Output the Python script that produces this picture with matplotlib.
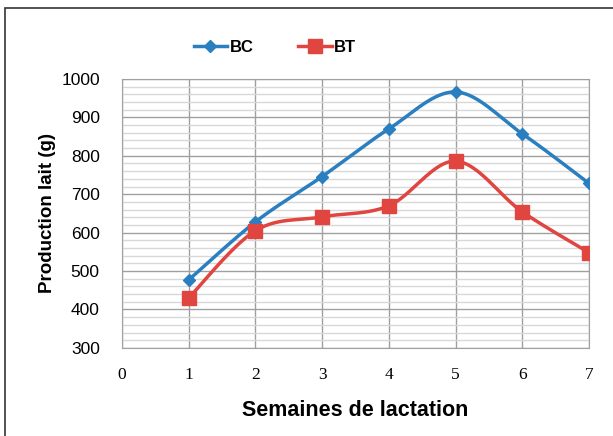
import matplotlib
matplotlib.use('Agg')
import matplotlib.pyplot as plt
import numpy as np
from matplotlib.patches import Rectangle
from matplotlib.ticker import MultipleLocator

semaines = [1, 2, 3, 4, 5, 6, 7]
bc = [477, 628, 746, 870, 966, 857, 728]
bt = [430, 605, 641, 670, 786, 654, 548]
x_ticks = [0, 1, 2, 3, 4, 5, 6, 7]
y_ticks = [300, 400, 500, 600, 700, 800, 900, 1000]

blue = '#2a7fc1'
red = '#e04540'


def lisser(x, y, n=30):
    # courbe lissée type Excel (Catmull-Rom)
    x = np.asarray(x, float)
    y = np.asarray(y, float)
    px = np.concatenate([[x[0]], x, [x[-1]]])
    py = np.concatenate([[y[0]], y, [y[-1]]])
    xs, ys = [], []
    t = np.linspace(0, 1, n)
    for i in range(1, len(px) - 2):
        p0, p1, p2, p3 = px[i-1], px[i], px[i+1], px[i+2]
        q0, q1, q2, q3 = py[i-1], py[i], py[i+1], py[i+2]
        c1x, c1y = p1 + (p2 - p0) / 6, q1 + (q2 - q0) / 6
        c2x, c2y = p2 - (p3 - p1) / 6, q2 - (q3 - q1) / 6
        bx = (1-t)**3*p1 + 3*(1-t)**2*t*c1x + 3*(1-t)*t**2*c2x + t**3*p2
        by = (1-t)**3*q1 + 3*(1-t)**2*t*c1y + 3*(1-t)*t**2*c2y + t**3*q2
        xs.extend(bx)
        ys.extend(by)
    return xs, ys


fig = plt.figure(figsize=(6.13, 4.36), dpi=100)
ax = fig.add_axes([0.199, 0.202, 0.762, 0.617])

# cadre extérieur
fig.patches.append(Rectangle((5/613, -0.1), 1.2, 1 - 8/436 + 0.1, transform=fig.transFigure,
                             fill=False, edgecolor='#333333', linewidth=1.2))

for vals, col, mk, ms, lab in [(bc, blue, 'D', 6.5, 'BC'), (bt, red, 's', 9.5, 'BT')]:
    sx, sy = lisser(semaines, vals)
    ax.plot(sx, sy, color=col, linewidth=2.5, zorder=3)
    ax.plot(semaines, vals, linestyle='none', marker=mk, markersize=ms, color=col, zorder=4)
    ax.plot([], [], color=col, linewidth=2.5, marker=mk, markersize=ms, label=lab)

ax.set_xlim(0, 7)
ax.set_ylim(300, 1000)
ax.set_xticks(x_ticks)
ax.set_yticks(y_ticks)
ax.yaxis.set_minor_locator(MultipleLocator(20))
ax.grid(which='major', color='#a0a0a0', linewidth=1.0)
ax.grid(which='minor', axis='y', color='#d8d8d8', linewidth=1.0)
ax.set_axisbelow(True)
for s in ax.spines.values():
    s.set_color('#a0a0a0')
ax.tick_params(which='both', length=0)
ax.tick_params(axis='x', pad=14)
ax.tick_params(axis='y', pad=16)
for t in ax.get_xticklabels():
    t.set_family('Liberation Serif')
    t.set_fontsize(12.5)
for t in ax.get_yticklabels():
    t.set_family('Liberation Sans')
    t.set_fontsize(12.5)

ax.set_xlabel('Semaines de lactation', family='Liberation Sans', fontsize=15.5,
              fontweight='bold', labelpad=12)
ax.set_ylabel('Production lait (g)', family='Liberation Sans', fontsize=13.5,
              fontweight='bold', labelpad=4)

leg = fig.legend(loc='center', bbox_to_anchor=(275/613, 1 - 47/436), ncol=2, frameon=False,
                 prop={'family': 'Liberation Sans', 'weight': 'bold', 'size': 12},
                 handlelength=2.0, columnspacing=2.7, handletextpad=0.15)

fig.savefig('out.png', dpi=100)
